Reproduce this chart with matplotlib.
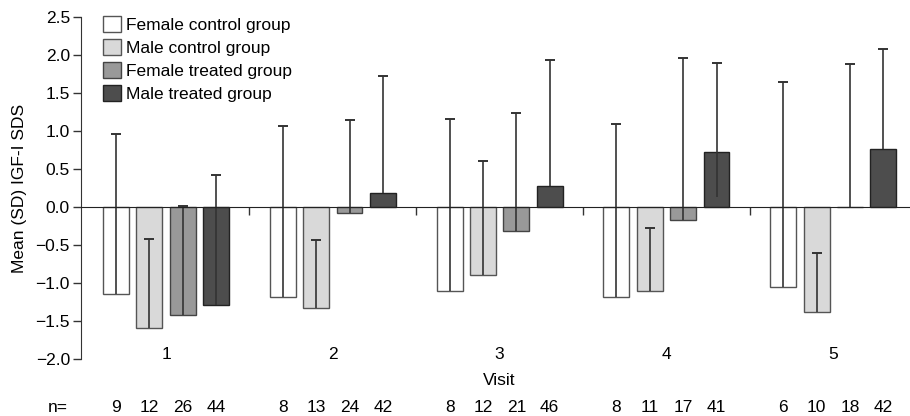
import matplotlib
matplotlib.use("Agg")
import matplotlib.pyplot as plt
import numpy as np

plt.rcParams['font.family'] = ['Liberation Sans', 'DejaVu Sans']

visits = [1, 2, 3, 4, 5]
groups = ["Female control group", "Male control group",
          "Female treated group", "Male treated group"]

# mean IGF-I SDS per visit, one list per group
female_control = [-1.15, -1.19, -1.10, -1.19, -1.05]
male_control = [-1.59, -1.33, -0.89, -1.10, -1.38]
female_treated = [-1.42, -0.08, -0.31, -0.17, 0.0]
male_treated = [-1.29, 0.18, 0.28, 0.72, 0.77]

# top of the SD whisker (mean + SD)
female_control_top = [0.96, 1.06, 1.16, 1.09, 1.64]
male_control_top = [-0.42, -0.43, 0.60, -0.28, -0.60]
female_treated_top = [0.02, 1.15, 1.24, 1.96, 1.88]
male_treated_top = [0.42, 1.73, 1.94, 1.90, 2.08]

# lower end of the whisker line (drawn from the mean, one exception)
male_treated_low = [-1.29, 0.18, 0.28, 0.13, 0.77]

n_female_control = [9, 8, 8, 8, 6]
n_male_control = [12, 13, 12, 11, 10]
n_female_treated = [26, 24, 21, 17, 18]
n_male_treated = [44, 42, 46, 41, 42]

means = [female_control, male_control, female_treated, male_treated]
tops = [female_control_top, male_control_top, female_treated_top, male_treated_top]
lows = [female_control, male_control, female_treated, male_treated_low]
counts = [n_female_control, n_male_control, n_female_treated, n_male_treated]

colors = ['white', '#d9d9d9', '#999999', '#4d4d4d']
edges = ['#555555', '#555555', '#444444', '#222222']
offsets = [-0.3, -0.1, 0.1, 0.3]
width = 0.155
fs = 12.5

fig = plt.figure(figsize=(9.1, 4.16), dpi=100)
ax = fig.add_axes([0.089, 0.137, 0.911, 0.822])

x = np.array(visits, dtype=float)
for k in range(4):
    xs = x + offsets[k]
    ax.bar(xs, means[k], width=width, color=colors[k], edgecolor=edges[k],
           linewidth=1.0, label=groups[k], zorder=2)
    ax.vlines(xs, lows[k], tops[k], color='#333333', linewidth=1.2, zorder=3)
    ax.errorbar(xs, tops[k], yerr=0, fmt='none', ecolor='#333333',
                capsize=3.8, capthick=1.2, zorder=3)
    for xi, n in zip(xs, counts[k]):
        ax.text(xi, -2.64, str(n), ha='center', va='center', fontsize=fs,
                clip_on=False)

ax.text(0.35, -2.64, "n=", ha='center', va='center', fontsize=fs, clip_on=False)
for v in visits:
    ax.text(v, -1.94, str(v), ha='center', va='center', fontsize=fs)
ax.text(3, -2.28, "Visit", ha='center', va='center', fontsize=fs, clip_on=False)

ax.set_xlim(0.49, 5.46)
ax.set_ylim(-2.0, 2.5)
ticks = np.arange(-2.0, 2.51, 0.5)
ax.set_yticks(ticks)
ax.set_yticklabels([f"{t:.1f}".replace('-', '\u2212') for t in ticks])
ax.set_xticks([1.5, 2.5, 3.5, 4.5])
ax.set_xticklabels([])
ax.tick_params(axis='x', direction='out', length=6, width=1, color='#333333')
ax.tick_params(axis='y', direction='out', length=6, width=1, labelsize=fs,
               color='#333333', pad=2)

ax.spines['top'].set_visible(False)
ax.spines['right'].set_visible(False)
ax.spines['bottom'].set_position(('data', 0))
ax.spines['bottom'].set_zorder(4)
ax.spines['left'].set_color('#333333')
ax.spines['bottom'].set_color('#222222')

ax.set_ylabel("Mean (SD) IGF-I SDS", fontsize=fs, labelpad=6)

ax.legend(loc='upper left', bbox_to_anchor=(0.027, 1.002), frameon=False,
          fontsize=fs, handlelength=1.0, handleheight=1.0, handletextpad=0.3,
          labelspacing=0.36, borderpad=0, borderaxespad=0)

fig.savefig("out.png", dpi=100)
